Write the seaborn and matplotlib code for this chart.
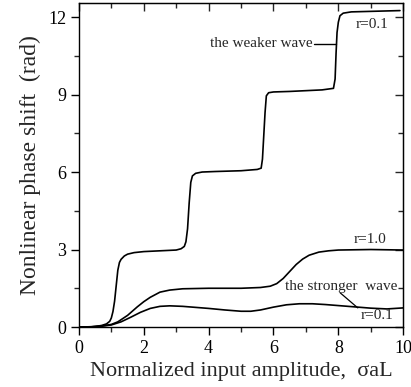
import numpy as np
import pandas as pd
import matplotlib
matplotlib.use("Agg")
import matplotlib.pyplot as plt
import seaborn as sns
from matplotlib.ticker import MultipleLocator

# weaker wave, r=0.1 (staircase)
x_weak = [0, 0.3, 0.5, 0.7, 0.85, 0.95, 1.0, 1.05, 1.1, 1.15, 1.2, 1.25, 1.3, 1.4, 1.5, 1.7, 2.0, 2.5, 3.0,
          3.15, 3.25, 3.3, 3.35, 3.4, 3.45, 3.5, 3.6, 3.8, 4.2, 5.0, 5.5, 5.62, 5.66, 5.7, 5.74, 5.78, 5.85, 6.0,
          6.5, 7.0, 7.5, 7.85, 7.9, 7.93, 7.96, 8.0, 8.05, 8.15, 8.4, 9.0, 9.9]
y_weak = [0, 0.0, 0.02, 0.06, 0.12, 0.22, 0.35, 0.6, 1.0, 1.6, 2.2, 2.5, 2.62, 2.75, 2.82, 2.88, 2.92, 2.95, 2.98,
          3.03, 3.12, 3.3, 3.8, 4.8, 5.6, 5.85, 5.95, 6.0, 6.02, 6.05, 6.1, 6.15, 6.5, 7.4, 8.3, 8.95, 9.07, 9.1,
          9.12, 9.15, 9.18, 9.24, 9.6, 10.6, 11.4, 11.8, 12.05, 12.15, 12.2, 12.22, 12.25]

# both waves equal, r=1.0
x_eq = [0, 0.4, 0.7, 1.0, 1.2, 1.5, 1.8, 2.0, 2.2, 2.5, 2.8, 3.2, 4.0, 5.0, 5.6, 5.9, 6.1, 6.3, 6.5, 6.7,
        6.9, 7.1, 7.4, 7.7, 8.0, 9.0, 10.0]
y_eq = [0, 0.01, 0.04, 0.1, 0.2, 0.45, 0.78, 0.98, 1.15, 1.35, 1.43, 1.48, 1.5, 1.5, 1.53, 1.58, 1.68, 1.88,
        2.15, 2.42, 2.63, 2.78, 2.9, 2.95, 2.98, 3.0, 2.98]

# stronger wave, r=0.1
x_str = [0, 0.4, 0.7, 1.0, 1.3, 1.6, 1.9, 2.2, 2.5, 2.8, 3.2, 3.6, 4.0, 4.5, 5.0, 5.3, 5.6, 6.0, 6.4, 6.8,
         7.2, 7.6, 8.0, 8.5, 9.0, 9.5, 10.0]
y_str = [0, 0.01, 0.03, 0.08, 0.2, 0.38, 0.57, 0.72, 0.8, 0.82, 0.8, 0.76, 0.72, 0.66, 0.61, 0.61, 0.66,
         0.77, 0.86, 0.9, 0.9, 0.87, 0.83, 0.78, 0.73, 0.7, 0.74]

sns.set_style("ticks")
plt.rcParams["font.family"] = ["Liberation Serif", "DejaVu Serif"]

fig = plt.figure(figsize=(4.11, 3.87), dpi=100)
ax = fig.add_axes([0.192, 0.155, 0.789, 0.837])

for xs, ys in [(x_weak, y_weak), (x_eq, y_eq), (x_str, y_str)]:
    df = pd.DataFrame({"x": xs, "y": ys})
    sns.lineplot(data=df, x="x", y="y", ax=ax, color="black", lw=1.2, sort=False)

ax.set_xlim(0, 10)
ax.set_ylim(0, 12.54)
ax.xaxis.set_major_locator(MultipleLocator(2))
ax.xaxis.set_minor_locator(MultipleLocator(1))
ax.yaxis.set_major_locator(MultipleLocator(3))
ax.yaxis.set_minor_locator(MultipleLocator(1.5))
ax.tick_params(which="major", direction="out", length=6, width=1, labelsize=13, colors="black", pad=3)
ax.tick_params(which="minor", direction="out", length=3.5, width=1)
for s in ax.spines.values():
    s.set_visible(True)
    s.set_linewidth(1)
    s.set_color("black")

# mirrored ticks pointing inward on top and right
top = ax.secondary_xaxis("top")
top.xaxis.set_major_locator(MultipleLocator(2))
top.xaxis.set_minor_locator(MultipleLocator(1))
top.tick_params(which="major", direction="in", length=6, width=1, labeltop=False)
top.tick_params(which="minor", direction="in", length=3.5, width=1)
right = ax.secondary_yaxis("right")
right.yaxis.set_major_locator(MultipleLocator(3))
right.yaxis.set_minor_locator(MultipleLocator(1.5))
right.tick_params(which="major", direction="in", length=6, width=1, labelright=False)
right.tick_params(which="minor", direction="in", length=3.5, width=1)

ax.set_xlabel("Normalized input amplitude,  σaL", fontsize=16, labelpad=4)
ax.set_ylabel("Nonlinear phase shift  (rad)", fontsize=17, labelpad=5)

fs = 11
ax.text(7.2, 10.96, "the weaker wave", fontsize=fs, ha="right", va="center")
ax.plot([7.24, 7.92], [10.96, 10.96], color="black", lw=1)
ax.text(9.05, 11.72, "r=0.1", fontsize=fs, ha="center", va="center")
ax.text(8.98, 3.4, "r=1.0", fontsize=fs, ha="center", va="center")
ax.text(8.1, 1.55, "the stronger  wave", fontsize=fs, ha="center", va="center")
ax.plot([8.06, 8.6], [1.32, 0.74], color="black", lw=0.9)
ax.text(9.18, 0.43, "r=0.1", fontsize=fs, ha="center", va="center")

fig.savefig("out.png", dpi=100)
